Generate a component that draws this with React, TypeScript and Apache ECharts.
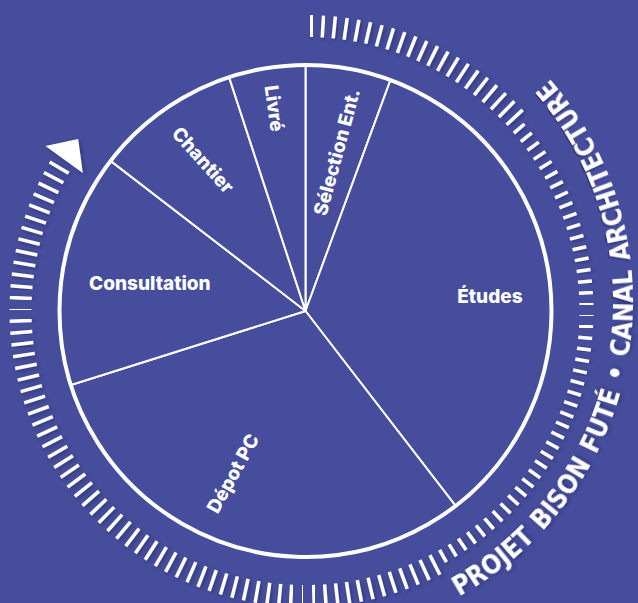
import React, { useEffect, useRef } from 'react';
import * as echarts from 'echarts';

// Project phases, clockwise from 12 o'clock, with relative durations
const phases = ['Sélection Ent.', 'Études', 'Dépot PC', 'Consultation', 'Chantier', 'Livré'];
const durations = [20.2, 122.2, 110.1, 55.1, 34.3, 18.1];
const ringText = 'PROJET BISON FUTÉ • CANAL ARCHITECTURE';

const BG = '#464d9c';
const CX = 305.5;
const CY = 311;
const R = 246;

// label placement (polar around the pie centre) and rotation, per phase
const labelPlacement = [
  { r: 162, deg: 11.2, rotate: 75 },
  { r: 185, deg: 85.4, rotate: 0 },
  { r: 178, deg: 204, rotate: 61 },
  { r: 158, deg: 279.9, rotate: 0 },
  { r: 182.5, deg: 325.8, rotate: -48 },
  { r: 205, deg: 351.2, rotate: -82 },
];

function polar(cx: number, cy: number, r: number, deg: number): [number, number] {
  const a = (deg * Math.PI) / 180;
  return [cx + r * Math.sin(a), cy - r * Math.cos(a)];
}

const shadow = {
  shadowBlur: 4,
  shadowColor: 'rgba(10,10,50,0.35)',
  shadowOffsetX: 1.5,
  shadowOffsetY: 1.5,
};

function buildGraphics() {
  const els: any[] = [];
  // tick ring
  for (let i = 0; ; i++) {
    const deg = 1.2 + i * 2.3;
    if (deg > 300.5) break;
    const short = deg > 48 && deg < 152;
    const [x1, y1] = polar(CX, CY, 274, deg);
    const [x2, y2] = polar(CX, CY, short ? 288 : 296, deg);
    els.push({
      type: 'line',
      silent: true,
      z: 5,
      shape: { x1, y1, x2, y2 },
      style: { stroke: '#ffffff', lineWidth: i === 78 ? 7 : 3.5, lineCap: 'butt', ...shadow },
    });
  }
  // arrow head
  els.push({
    type: 'polygon',
    silent: true,
    z: 5,
    shape: {
      points: [polar(CX, CY, 262, 301.8), polar(CX, CY, 308, 302.4), polar(CX, CY, 285, 307.1)],
    },
    style: { fill: '#ffffff', ...shadow },
  });
  // outer circle of the pie
  els.push({
    type: 'circle',
    silent: true,
    z: 100,
    shape: { cx: CX, cy: CY, r: R },
    style: { fill: 'none', stroke: '#ffffff', lineWidth: 4 },
  });

  // curved text
  const FS = 26;
  const FF = '"Liberation Sans Narrow", "DejaVu Sans Condensed", sans-serif';
  const FW = 'bold';
  const chars = Array.from(ringText);
  const ctx = document.createElement('canvas').getContext('2d') as CanvasRenderingContext2D;
  ctx.font = `${FW} ${FS}px ${FF}`;
  const widths = chars.map((c) => ctx.measureText(c).width + (c === ' ' ? 2 : 0));
  const TX = 295;
  const TY = 301;
  const TR = 329;
  const startDeg = 149.5;
  const endDeg = 50.2;
  const n = chars.length;
  const spanArc = (((startDeg - endDeg) * Math.PI) / 180) * TR;
  const inner = widths.reduce((a, b) => a + b, 0) - widths[0] / 2 - widths[n - 1] / 2;
  const gap = (spanArc - inner) / (n - 1);
  let s = 0;
  for (let i = 0; i < n; i++) {
    if (i > 0) s += widths[i - 1] / 2 + gap + widths[i] / 2;
    const deg = startDeg - ((s / TR) * 180) / Math.PI;
    const [x, y] = polar(TX, TY, TR, deg);
    if (chars[i] === ' ') continue;
    els.push({
      type: 'text',
      silent: true,
      z: 6,
      x,
      y,
      rotation: ((180 - deg) * Math.PI) / 180,
      style: {
        text: chars[i],
        fill: '#ffffff',
        fontSize: FS,
        fontFamily: FF,
        fontWeight: FW,
        align: 'center',
        verticalAlign: 'middle',
        textShadowBlur: 4,
        textShadowColor: 'rgba(10,10,50,0.35)',
        textShadowOffsetX: 1.5,
        textShadowOffsetY: 1.5,
      },
    });
  }
  return els;
}

export default function App() {
  const ref = useRef<HTMLDivElement>(null);
  useEffect(() => {
    document.body.style.margin = '0';
    if (!ref.current) return;
    const chart = echarts.init(ref.current, undefined, { renderer: 'svg' });
    chart.setOption({
      animation: false,
      backgroundColor: BG,
      graphic: { elements: buildGraphics() },
      series: [
        {
          type: 'pie',
          center: [CX, CY],
          radius: R,
          startAngle: 90,
          clockwise: true,
          avoidLabelOverlap: false,
          silent: true,
          data: phases.map((name, i) => ({ name, value: durations[i] })),
          itemStyle: { color: BG, borderColor: '#ffffff', borderWidth: 2 },
          label: {
            show: true,
            position: 'inside',
            color: '#ffffff',
            fontFamily: 'Inter, Roboto, sans-serif',
            fontWeight: 800,
            fontSize: 19,
          },
          labelLine: { show: false },
          emphasis: { disabled: true },
          labelLayout: (p: any) => {
            const lp = labelPlacement[p.dataIndex];
            const [x, y] = polar(CX, CY, lp.r, lp.deg);
            return { x, y, rotate: lp.rotate, align: 'center', verticalAlign: 'middle' };
          },
        },
      ],
    });
    return () => chart.dispose();
  }, []);
  return <div ref={ref} style={{ width: 638, height: 603 }} />;
}
